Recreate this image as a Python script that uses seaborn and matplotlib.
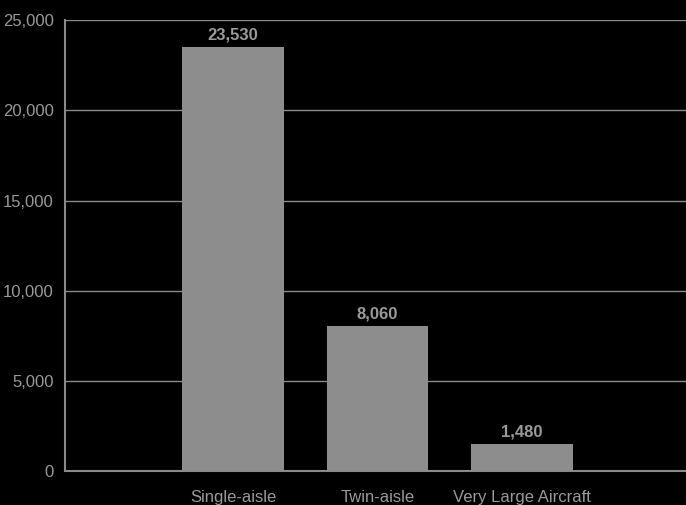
import matplotlib
matplotlib.use("Agg")
import matplotlib.pyplot as plt
import seaborn as sns
import pandas as pd

categories = ["Single-aisle", "Twin-aisle", "Very Large Aircraft"]
values = [23530, 8060, 1480]
yticks = [0, 5000, 10000, 15000, 20000, 25000]

sns.set_style("dark")
plt.rcParams['font.family'] = ['Liberation Sans Narrow', 'Liberation Sans', 'DejaVu Sans']

df = pd.DataFrame({"cat": categories, "val": values})

fig = plt.figure(figsize=(6.86, 5.05), dpi=100, facecolor="black")
ax = fig.add_axes([0.0948, 0.0673, 0.9052, 0.8927])
ax.set_facecolor("black")

sns.barplot(data=df, x="cat", y="val", color="#8c8d8c", saturation=1,
            width=0.705, ax=ax, zorder=3, linewidth=0, edgecolor="none")

txt = "#9a9a9a"
for i, v in enumerate(values):
    ax.text(i, v + 250, f"{v:,}", ha="center", va="bottom", color=txt,
            fontsize=12, fontweight="bold")

ax.set_xlim(-1.163, 3.135)
ax.set_ylim(0, 25000)
ax.set_yticks(yticks)
ax.set_yticklabels([f"{t:,}" for t in yticks])
ax.yaxis.grid(True, color="#8a8a8a", linewidth=1, zorder=0)
ax.xaxis.grid(False)
ax.set_xlabel("")
ax.set_ylabel("")
ax.tick_params(axis="both", colors=txt, labelsize=12, length=0)
ax.tick_params(axis="y", pad=8)
ax.tick_params(axis="x", pad=14)
for s in ["top", "right"]:
    ax.spines[s].set_visible(False)
for s in ["left", "bottom"]:
    ax.spines[s].set_visible(True)
    ax.spines[s].set_color("#8a8a8a")
    ax.spines[s].set_linewidth(1.5)

fig.savefig("out.png", dpi=100, facecolor="black")
